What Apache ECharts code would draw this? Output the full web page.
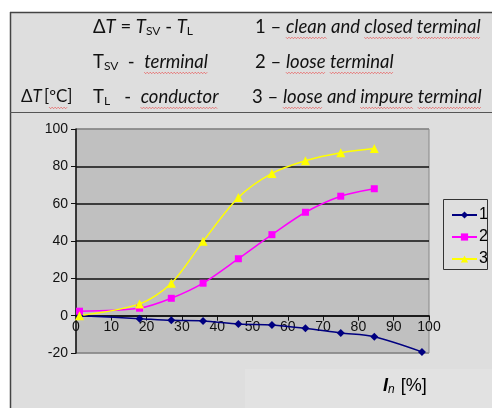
<!DOCTYPE html>
<html><head><meta charset="utf-8">
<script src="https://cdn.jsdelivr.net/npm/echarts@6/dist/echarts.min.js"></script>
<style>html,body{margin:0;padding:0;background:#fff}#c{width:492px;height:408px}</style>
</head><body><div id="c"></div>
<script>
// ---- data ----
var seriesNames = ['1', '2', '3'];
var xValues1 = [1, 18, 27, 36, 46, 55.5, 65, 75, 84.5, 98];
var values1 = [0, -1.6, -2.5, -2.8, -4.5, -5, -6.8, -9.3, -11.3, -19.4];
var xValues23 = [1, 18, 27, 36, 46, 55.5, 65, 75, 84.5];
var values2 = [2.4, 4, 9.3, 17.4, 30.5, 43.4, 55.4, 64, 68];
var values3 = [0, 6.3, 17.4, 39.8, 63.3, 76.2, 83, 87.3, 89.5];
var xTicks = [0, 10, 20, 30, 40, 50, 60, 70, 80, 90, 100];
var yTicks = [-20, 0, 20, 40, 60, 80, 100];

function pairs(xs, ys) { return xs.map(function (x, i) { return [x, ys[i]]; }); }

var chart = echarts.init(document.getElementById('c'), null, {renderer: 'canvas'});
var HF = 'Lato, "Open Sans", sans-serif';
var HS = 18.5;
var measureCtx = document.createElement('canvas').getContext('2d');
function measure(str, style, size) {
  measureCtx.font = (style === 'i' ? 'italic ' : '') + size + 'px ' + HF;
  return measureCtx.measureText(str).width;
}
function headerLine(x, y, segs, out, sizeOverride) {
  var cx = x;
  var base = sizeOverride || HS;
  segs.forEach(function (s) {
    var size = s[0] === 'sub' ? 12 : base;
    var w = measure(s[1], s[0], size);
    out.push({type: 'text', x: cx, y: s[0] === 'sub' ? y + 4 : y, z: 10,
      style: {text: s[1], fill: '#111', font: (s[0] === 'i' ? 'italic ' : '') + size + 'px ' + HF,
        textVerticalAlign: 'middle'}});
    if (s[2]) {
      var pts = [], yy = y + 10.5, k = 0;
      for (var px = cx; px <= cx + w; px += 1.5, k++) pts.push([px, yy + (k % 2 ? 1.2 : -0.3)]);
      out.push({type: 'polyline', shape: {points: pts}, style: {stroke: '#e85a5a', lineWidth: 0.8, fill: null}, z: 9});
    }
    cx += w;
  });
}

var graphics = [
  {type: 'rect', shape: {x: 10, y: 12, width: 482, height: 396}, style: {fill: '#dedede'}, z: -10},
  {type: 'rect', shape: {x: 245, y: 369, width: 247, height: 39}, style: {fill: '#e2e2e2'}, z: -9},
  {type: 'line', shape: {x1: 10.5, y1: 12, x2: 10.5, y2: 408}, style: {stroke: '#444', lineWidth: 1.5}, z: 5},
  {type: 'line', shape: {x1: 10, y1: 12.5, x2: 492, y2: 12.5}, style: {stroke: '#444', lineWidth: 1.5}, z: 5},
  {type: 'line', shape: {x1: 10, y1: 112.5, x2: 492, y2: 112.5}, style: {stroke: '#555', lineWidth: 1}, z: 5},
  {type: 'text', left: 383, top: 377, z: 10,
    style: {text: '{a|I}{b|n}{c| [%]}', rich: {
      a: {fontFamily: '"Liberation Sans", Arial, sans-serif', fontSize: 18, fontStyle: 'italic', fontWeight: 'bold', color: '#1a1a33'},
      b: {fontFamily: '"Liberation Sans", Arial, sans-serif', fontSize: 12, fontStyle: 'italic', color: '#1a1a33', padding: [7, 1, 0, 0]},
      c: {fontFamily: '"Liberation Sans", Arial, sans-serif', fontSize: 18, color: '#1a1a33'}
    }}},
  {type: 'rect', shape: {x: 443.5, y: 199.5, width: 44, height: 70}, style: {fill: '#dedede', stroke: '#333', lineWidth: 1}, z: 1}
];
headerLine(93, 27, [['n', 'Δ'], ['i', 'T'], ['n', ' = '], ['i', 'T'], ['sub', 'SV'], ['n', ' - '], ['i', 'T'], ['sub', 'L']], graphics);
headerLine(93, 62, [['n', 'T'], ['sub', 'SV'], ['n', '  -  '], ['i', 'terminal', true]], graphics);
headerLine(21, 97, [['n', 'Δ'], ['i', 'T'], ['n', '\u2009['], ['n', 'ºC', true], ['n', ']']], graphics, 17);
headerLine(93, 97, [['n', 'T'], ['sub', 'L'], ['n', '   -  '], ['i', 'conductor', true]], graphics);
headerLine(255, 27, [['n', '1 – '], ['i', 'clean', true], ['i', ' and '], ['i', 'closed', true], ['i', ' '], ['i', 'terminal', true]], graphics);
headerLine(255, 62, [['n', '2 – '], ['i', 'loose', true], ['i', ' '], ['i', 'terminal', true]], graphics);
headerLine(252, 97, [['n', '3 – '], ['i', 'loose', true], ['i', ' and '], ['i', 'impure', true], ['i', ' '], ['i', 'terminal', true]], graphics);

var AF = '"Liberation Sans", Arial, sans-serif';
var gridTop = 129, gridBottom = 55, gridH = 408 - gridTop - gridBottom;
var yMin = -20, yMax = 100;
var xAxisOffset = -gridH * (0 - yMin) / (yMax - yMin); // place x axis at y = 0

var option = {
  backgroundColor: '#ffffff',
  animation: false,
  graphic: graphics,
  grid: {left: 76, right: 63, top: gridTop, bottom: gridBottom, show: true, backgroundColor: '#c0c0c0', borderColor: '#888', borderWidth: 1},
  legend: {
    orient: 'vertical', left: 446, top: 202, itemGap: 6, itemWidth: 25, itemHeight: 9,
    data: seriesNames, z: 3,
    textStyle: {fontFamily: AF, fontSize: 16, color: '#000', padding: [0, 0, 0, -3]}
  },
  xAxis: {
    type: 'value', min: 0, max: 100, interval: 10, offset: xAxisOffset,
    axisLine: {onZero: false, lineStyle: {color: '#111', width: 1.5}},
    axisTick: {show: true, length: 5, lineStyle: {color: '#111'}},
    axisLabel: {color: '#111', fontFamily: AF, fontSize: 14, margin: 4,
      formatter: function (v) { return xTicks.indexOf(v) >= 0 ? String(v) : ''; }},
    splitLine: {show: false}
  },
  yAxis: {
    type: 'value', min: yMin, max: yMax, interval: 20,
    axisLine: {show: true, onZero: false, lineStyle: {color: '#111', width: 1.5}},
    axisTick: {show: true, length: 5, lineStyle: {color: '#111'}},
    axisLabel: {color: '#111', fontFamily: AF, fontSize: 14, margin: 8,
      formatter: function (v) { return yTicks.indexOf(v) >= 0 ? String(v) : ''; }},
    splitLine: {show: true, lineStyle: {color: ['#888', '#111', '#111', '#111', '#111', '#111', '#888'], width: 1.5}}
  },
  series: [
    {name: seriesNames[0], type: 'line', smooth: 0.3, data: pairs(xValues1, values1),
      symbol: 'diamond', symbolSize: 8, color: '#000080', lineStyle: {width: 1.5, color: '#000080'}, itemStyle: {color: '#000080'}, z: 4},
    {name: seriesNames[1], type: 'line', smooth: 0.3, data: pairs(xValues23, values2),
      symbol: 'rect', symbolSize: 7, color: '#ff00ff', lineStyle: {width: 1.5, color: '#ff00ff'}, itemStyle: {color: '#ff00ff'}, z: 4},
    {name: seriesNames[2], type: 'line', smooth: 0.3, data: pairs(xValues23, values3),
      symbol: 'triangle', symbolSize: 9, color: '#ffff00', lineStyle: {width: 1.5, color: '#ffff00'}, itemStyle: {color: '#ffff00'}, z: 4}
  ]
};
chart.setOption(option);
</script>
</body></html>
